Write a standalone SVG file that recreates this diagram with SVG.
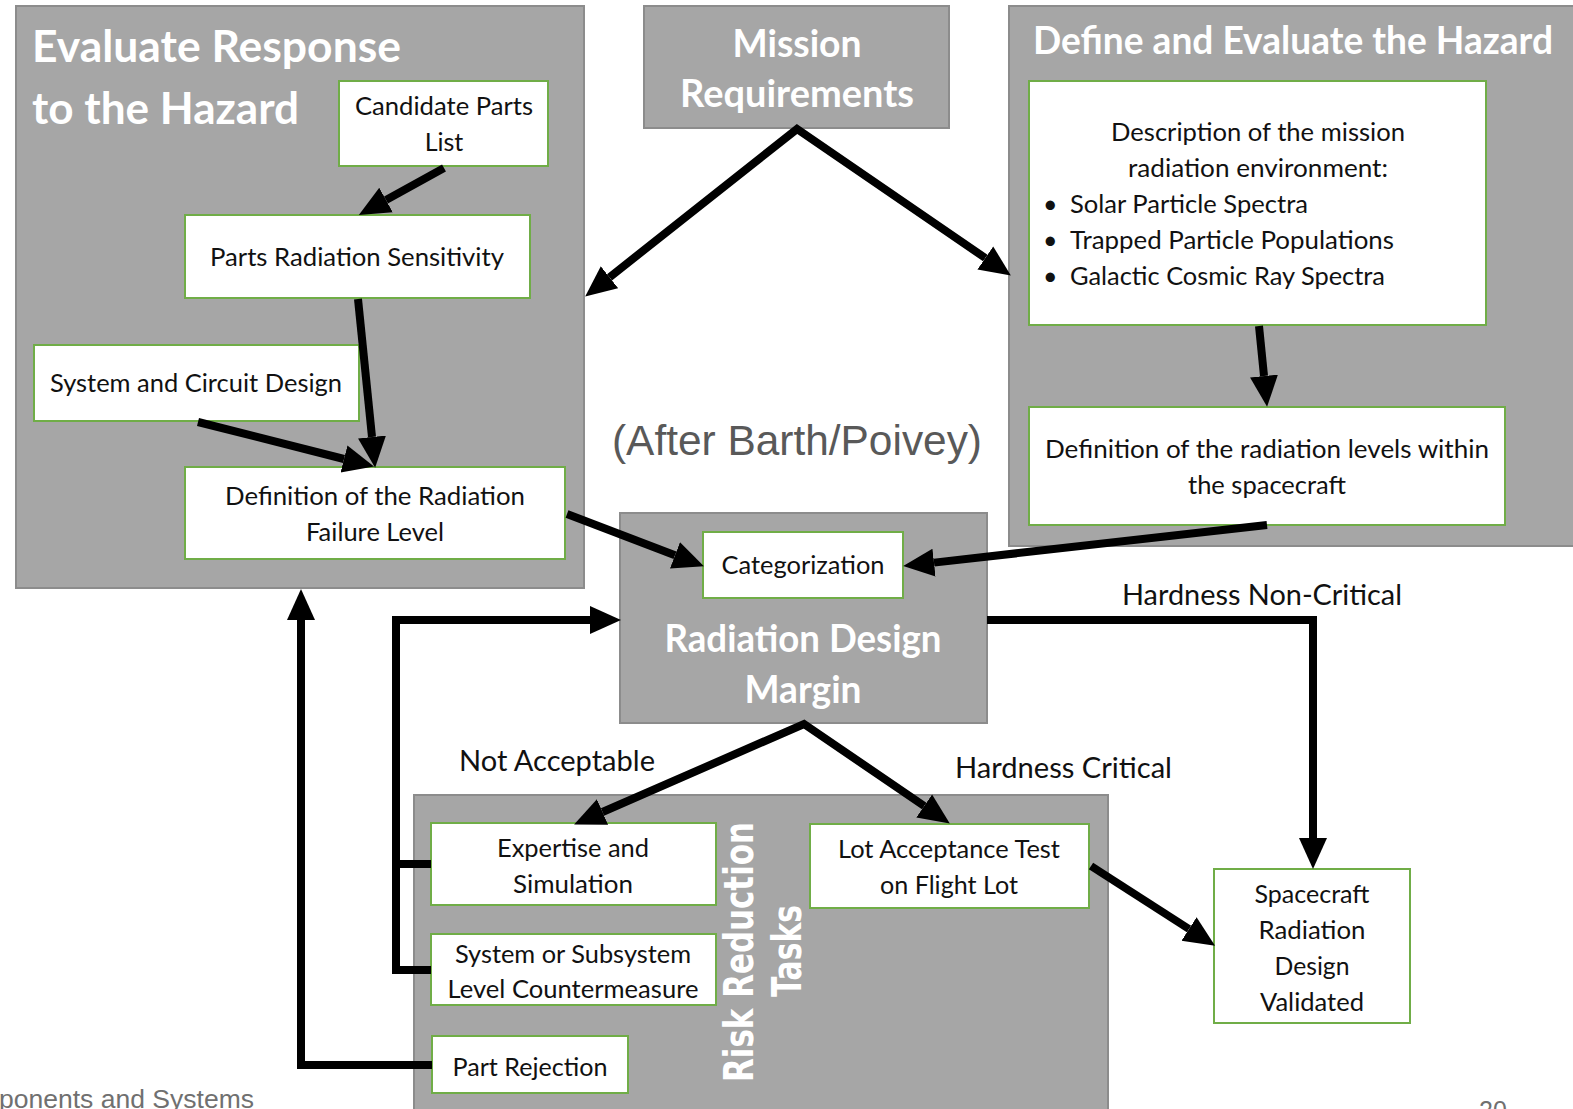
<svg xmlns="http://www.w3.org/2000/svg" width="1573" height="1109" viewBox="0 0 1573 1109">
<defs>
<style>
.panel{fill:#a6a6a6;stroke:#8c8c8c;stroke-width:2}
.box{fill:#ffffff;stroke:#70ad47;stroke-width:2}
.title{font-family:Lato,"Open Sans",sans-serif;font-weight:bold;fill:#ffffff}
.t{font-family:Lato,"Open Sans",sans-serif;font-size:25px;fill:#111111}
.lbl{font-family:Lato,"Open Sans",sans-serif;font-size:28px;fill:#111111}
.c{text-anchor:middle}
.conn{fill:none;stroke:#000000;stroke-width:8;stroke-linejoin:miter}
.arr{marker-end:url(#ah)}
.foot{font-family:"Liberation Sans",Arial,sans-serif;fill:#707070}
</style>
<marker id="ah" markerUnits="userSpaceOnUse" markerWidth="32" markerHeight="30" refX="0" refY="14" orient="auto-start-reverse" viewBox="0 0 32 28">
<path d="M0,0 L31,14 L0,28 z" fill="#000000"/>
</marker>
</defs>
<rect width="1573" height="1109" fill="#ffffff"/>

<g id="evaluate-response">
<rect class="panel" x="16" y="6" width="568" height="582"/>
<text class="title" x="32" y="62" font-size="44" textLength="369" lengthAdjust="spacingAndGlyphs">Evaluate Response</text>
<text class="title" x="32" y="124" font-size="44" textLength="267" lengthAdjust="spacingAndGlyphs">to the Hazard</text>
</g>

<g id="mission-requirements">
<rect class="panel" x="644" y="6" width="305" height="122"/>
<text class="title c" x="797" y="57" font-size="38" textLength="129" lengthAdjust="spacingAndGlyphs">Mission</text>
<text class="title c" x="797" y="107" font-size="38" textLength="234" lengthAdjust="spacingAndGlyphs">Requirements</text>
</g>

<g id="define-hazard">
<rect class="panel" x="1009" y="6" width="570" height="540"/>
<text class="title" x="1033" y="54" font-size="39" textLength="520" lengthAdjust="spacingAndGlyphs">Define and Evaluate the Hazard</text>
</g>

<g id="radiation-design-margin">
<rect class="panel" x="620" y="513" width="367" height="210"/>
<text class="title c" x="803" y="652" font-size="38" textLength="277" lengthAdjust="spacingAndGlyphs">Radiation Design</text>
<text class="title c" x="803" y="703" font-size="38" textLength="117" lengthAdjust="spacingAndGlyphs">Margin</text>
</g>

<g id="risk-reduction-tasks">
<rect class="panel" x="414" y="795" width="694" height="320"/>
<text transform="translate(753,952) rotate(-90)" text-anchor="middle" font-family="'DejaVu Sans',Verdana,sans-serif" font-weight="bold" font-size="40" fill="#ffffff" textLength="260" lengthAdjust="spacingAndGlyphs">Risk Reduction</text>
<text transform="translate(801,951) rotate(-90)" text-anchor="middle" font-family="'DejaVu Sans',Verdana,sans-serif" font-weight="bold" font-size="40" fill="#ffffff" textLength="92" lengthAdjust="spacingAndGlyphs">Tasks</text>
</g>

<g id="candidate-parts">
<rect class="box" x="339" y="81" width="209" height="85"/>
<text class="t c" x="444" y="115" textLength="178" lengthAdjust="spacingAndGlyphs">Candidate Parts</text>
<text class="t c" x="444" y="151">List</text>
</g>

<g id="parts-sensitivity">
<rect class="box" x="185" y="215" width="345" height="83"/>
<text class="t c" x="357" y="266" textLength="294" lengthAdjust="spacingAndGlyphs">Parts Radiation Sensitivity</text>
</g>

<g id="system-circuit-design">
<rect class="box" x="34" y="345" width="325" height="76"/>
<text class="t c" x="196" y="392" textLength="292" lengthAdjust="spacingAndGlyphs">System and Circuit Design</text>
</g>

<g id="failure-level">
<rect class="box" x="185" y="467" width="380" height="92"/>
<text class="t c" x="375" y="505" textLength="300" lengthAdjust="spacingAndGlyphs">Definition of the Radiation</text>
<text class="t c" x="375" y="541" textLength="138" lengthAdjust="spacingAndGlyphs">Failure Level</text>
</g>

<g id="environment-description">
<rect class="box" x="1029" y="81" width="457" height="244"/>
<text class="t c" x="1258" y="141" textLength="294" lengthAdjust="spacingAndGlyphs">Description of the mission</text>
<text class="t c" x="1258" y="177" textLength="260" lengthAdjust="spacingAndGlyphs">radiation environment:</text>
<text class="t" x="1043" y="213">•</text>
<text class="t" x="1070" y="213" textLength="238" lengthAdjust="spacingAndGlyphs">Solar Particle Spectra</text>
<text class="t" x="1043" y="249">•</text>
<text class="t" x="1070" y="249" textLength="324" lengthAdjust="spacingAndGlyphs">Trapped Particle Populations</text>
<text class="t" x="1043" y="285">•</text>
<text class="t" x="1070" y="285" textLength="315" lengthAdjust="spacingAndGlyphs">Galactic Cosmic Ray Spectra</text>
</g>

<g id="radiation-levels">
<rect class="box" x="1029" y="407" width="476" height="118"/>
<text class="t c" x="1267" y="458" textLength="444" lengthAdjust="spacingAndGlyphs">Definition of the radiation levels within</text>
<text class="t c" x="1267" y="494" textLength="158" lengthAdjust="spacingAndGlyphs">the spacecraft</text>
</g>

<g id="categorization">
<rect class="box" x="703" y="532" width="200" height="66"/>
<text class="t c" x="803" y="574" textLength="163" lengthAdjust="spacingAndGlyphs">Categorization</text>
</g>

<g id="expertise-simulation">
<rect class="box" x="431" y="823" width="285" height="82"/>
<text class="t c" x="573" y="857" textLength="152" lengthAdjust="spacingAndGlyphs">Expertise and</text>
<text class="t c" x="573" y="893" textLength="120" lengthAdjust="spacingAndGlyphs">Simulation</text>
</g>

<g id="countermeasure">
<rect class="box" x="431" y="934" width="285" height="71"/>
<text class="t c" x="573" y="963" textLength="236" lengthAdjust="spacingAndGlyphs">System or Subsystem</text>
<text class="t c" x="573" y="998" textLength="251" lengthAdjust="spacingAndGlyphs">Level Countermeasure</text>
</g>

<g id="part-rejection">
<rect class="box" x="432" y="1036" width="196" height="57"/>
<text class="t c" x="530" y="1076" textLength="155" lengthAdjust="spacingAndGlyphs">Part Rejection</text>
</g>

<g id="lot-acceptance">
<rect class="box" x="810" y="824" width="279" height="84"/>
<text class="t c" x="949" y="858" textLength="222" lengthAdjust="spacingAndGlyphs">Lot Acceptance Test</text>
<text class="t c" x="949" y="894" textLength="138" lengthAdjust="spacingAndGlyphs">on Flight Lot</text>
</g>

<g id="design-validated">
<rect class="box" x="1214" y="869" width="196" height="154"/>
<text class="t c" x="1312" y="903" textLength="115" lengthAdjust="spacingAndGlyphs">Spacecraft</text>
<text class="t c" x="1312" y="939" textLength="107" lengthAdjust="spacingAndGlyphs">Radiation</text>
<text class="t c" x="1312" y="975" textLength="75" lengthAdjust="spacingAndGlyphs">Design</text>
<text class="t c" x="1312" y="1011" textLength="104" lengthAdjust="spacingAndGlyphs">Validated</text>
</g>

<g id="connectors">
<path class="conn arr" d="M444,168 L386,200"/>
<path class="conn arr" d="M358,299 L372,437"/>
<path class="conn arr" d="M198,422 L344,459"/>
<path class="conn" d="M609.5,277.3 L797,129 L985.3,258" marker-start="url(#ah)" marker-end="url(#ah)"/>
<path class="conn arr" d="M1259,326 L1264,376"/>
<path class="conn arr" d="M1267,525 L934,562.6"/>
<path class="conn arr" d="M567,514 L675,555.3"/>
<path class="conn arr" d="M987,620 L1313,620 L1313,838"/>
<path class="conn" d="M602.5,812 L804,724 L924.2,806" marker-start="url(#ah)" marker-end="url(#ah)"/>
<path class="conn arr" d="M1091,866 L1189,929"/>
<path class="conn arr" d="M431,970 L396,970 L396,620 L590,620"/>
<path class="conn" d="M396,864 L431,864"/>
<path class="conn arr" d="M432,1065 L301,1065 L301,620"/>
</g>

<g id="labels">
<text x="797" y="455" text-anchor="middle" font-family="'Liberation Sans',Arial,sans-serif" font-size="42" fill="#595959" textLength="370" lengthAdjust="spacingAndGlyphs">(After Barth/Poivey)</text>
<text class="lbl" x="1122" y="605" textLength="280" lengthAdjust="spacingAndGlyphs">Hardness Non-Critical</text>
<text class="lbl" x="459" y="771" textLength="196" lengthAdjust="spacingAndGlyphs">Not Acceptable</text>
<text class="lbl" x="955" y="778" textLength="217" lengthAdjust="spacingAndGlyphs">Hardness Critical</text>
<text class="foot" x="-1" y="1108" font-size="26" textLength="255" lengthAdjust="spacingAndGlyphs">ponents and Systems</text>
<text class="foot" x="1479" y="1119" font-size="25">20</text>
</g>
</svg>
